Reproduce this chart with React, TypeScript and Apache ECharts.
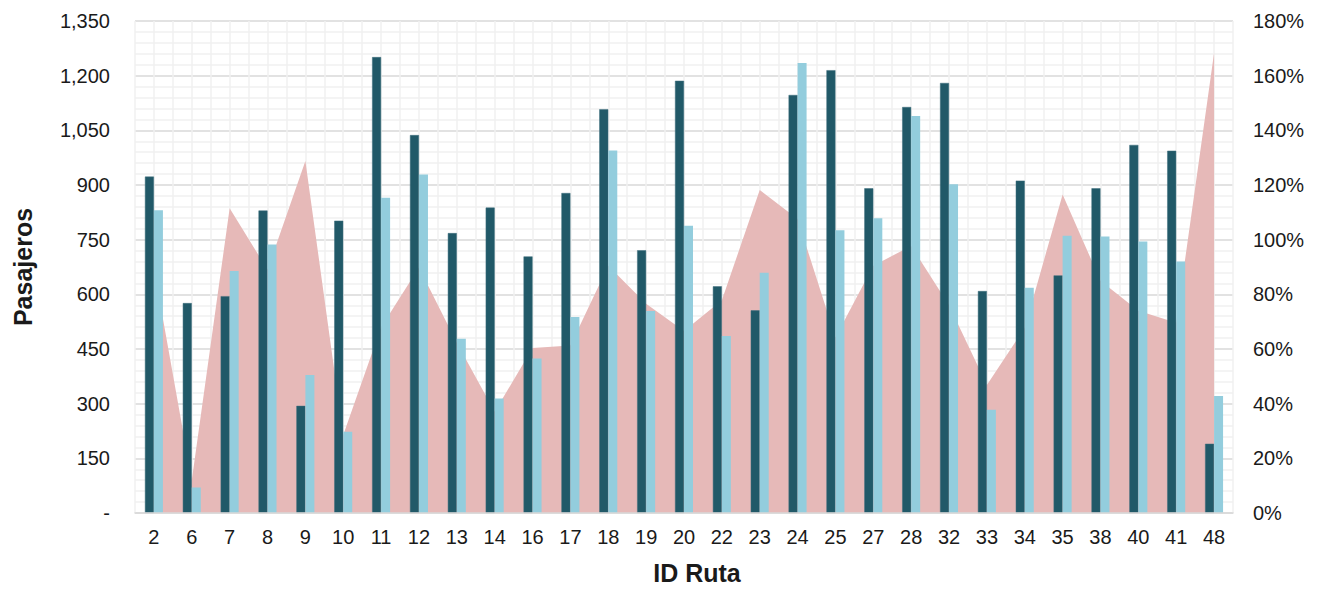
import React, { useEffect, useRef } from "react";
import * as echarts from "echarts";

const categories = ["2","6","7","8","9","10","11","12","13","14","16","17","18","19","20","22","23","24","25","27","28","32","33","34","35","38","40","41","48"];
const darkValues = [923,576,595,830,294,802,1251,1037,768,838,704,878,1108,721,1186,622,556,1147,1215,891,1114,1180,609,912,652,891,1010,994,190];
const lightValues = [831,70,664,737,379,223,865,929,478,314,424,538,995,554,788,486,659,1235,776,809,1089,902,283,618,761,759,745,690,321];
const ratioValues = [89.5,12,111.5,89,128.8,28.5,68,89.8,62.3,37,60.4,61.3,90.5,76.6,66.6,77.8,118.2,107.6,64.2,90.5,97.7,76,46.8,67.8,116.5,85,74,69.6,168.3];
const leftTicks = { min: 0, max: 1350, interval: 150 };
const rightTicks = { min: 0, max: 180, interval: 20 };

const FONT = "'Liberation Sans', Arial, sans-serif";

export default function App() {
  const ref = useRef<HTMLDivElement>(null);
  useEffect(() => {
    if (!ref.current) return;
    const chart = echarts.init(ref.current, undefined, { renderer: "svg" });
    chart.setOption({
      animation: false,
      backgroundColor: "#ffffff",
      grid: { left: 135, right: 92, top: 21, bottom: 75, containLabel: false },
      xAxis: [
        {
          type: "category",
          data: categories,
          boundaryGap: true,
          axisLine: { show: true, lineStyle: { color: "#d9d9d9", width: 1.5 } },
          axisTick: { show: false },
          axisLabel: { color: "#1a1a1a", fontSize: 20, fontFamily: FONT, margin: 14, interval: 0 },
          splitLine: { show: false },
          name: "ID Ruta",
          nameLocation: "middle",
          nameGap: 47,
          nameTextStyle: { color: "#1a1a1a", fontSize: 25, fontWeight: "bold", fontFamily: FONT, padding: [0, 0, 0, 26] },
          z: 3,
        },
        {
          type: "value",
          position: "top",
          min: 0,
          max: categories.length * 2,
          interval: 1,
          axisLine: { show: false },
          axisTick: { show: false },
          axisLabel: { show: false },
          splitLine: { show: true, lineStyle: { color: "#f0f0f0", width: 1.5 } },
        },
      ],
      yAxis: [
        {
          type: "value",
          min: leftTicks.min,
          max: leftTicks.max,
          interval: leftTicks.interval,
          axisLine: { show: false },
          axisTick: { show: false },
          axisLabel: {
            color: "#1a1a1a",
            fontSize: 20,
            fontFamily: FONT,
            margin: 25,
            formatter: (v: number) => (v === 0 ? "-" : v.toLocaleString("en-US")),
          },
          splitLine: { show: true, lineStyle: { color: "#d9d9d9", width: 1.5 } },
          minorTick: { show: false, splitNumber: 5 },
          minorSplitLine: { show: true, lineStyle: { color: "#f0f0f0", width: 1.5 } },
          name: "Pasajeros",
          nameLocation: "middle",
          nameRotate: 90,
          nameGap: 100,
          nameTextStyle: { color: "#1a1a1a", fontSize: 25, fontWeight: "bold", fontFamily: FONT },
        },
        {
          type: "value",
          min: rightTicks.min,
          max: rightTicks.max,
          interval: rightTicks.interval,
          position: "right",
          axisLine: { show: false },
          axisTick: { show: false },
          axisLabel: {
            color: "#1a1a1a",
            fontSize: 20,
            fontFamily: FONT,
            margin: 20,
            formatter: (v: number) => `${v}%`,
          },
          splitLine: { show: false },
        },
      ],
      series: [
        {
          name: "Ratio",
          type: "line",
          xAxisIndex: 0,
          yAxisIndex: 1,
          data: ratioValues,
          symbol: "none",
          lineStyle: { width: 0, color: "#e6b9b8" },
          areaStyle: { color: "#e6b9b8", opacity: 1 },
          z: 1,
        },
        {
          name: "Serie 1",
          type: "bar",
          xAxisIndex: 0,
          yAxisIndex: 0,
          data: darkValues,
          barWidth: 9,
          barGap: "0%",
          itemStyle: { color: "#215968", borderColor: "#3f6f7c", borderWidth: 0.5 },
          z: 2,
        },
        {
          name: "Serie 2",
          type: "bar",
          xAxisIndex: 0,
          yAxisIndex: 0,
          data: lightValues,
          barWidth: 9,
          barGap: "0%",
          itemStyle: { color: "#93cddd" },
          z: 2,
        },
      ],
    });
    return () => chart.dispose();
  }, []);
  return <div ref={ref} style={{ width: 1325, height: 590, margin: -8 }} />;
}
